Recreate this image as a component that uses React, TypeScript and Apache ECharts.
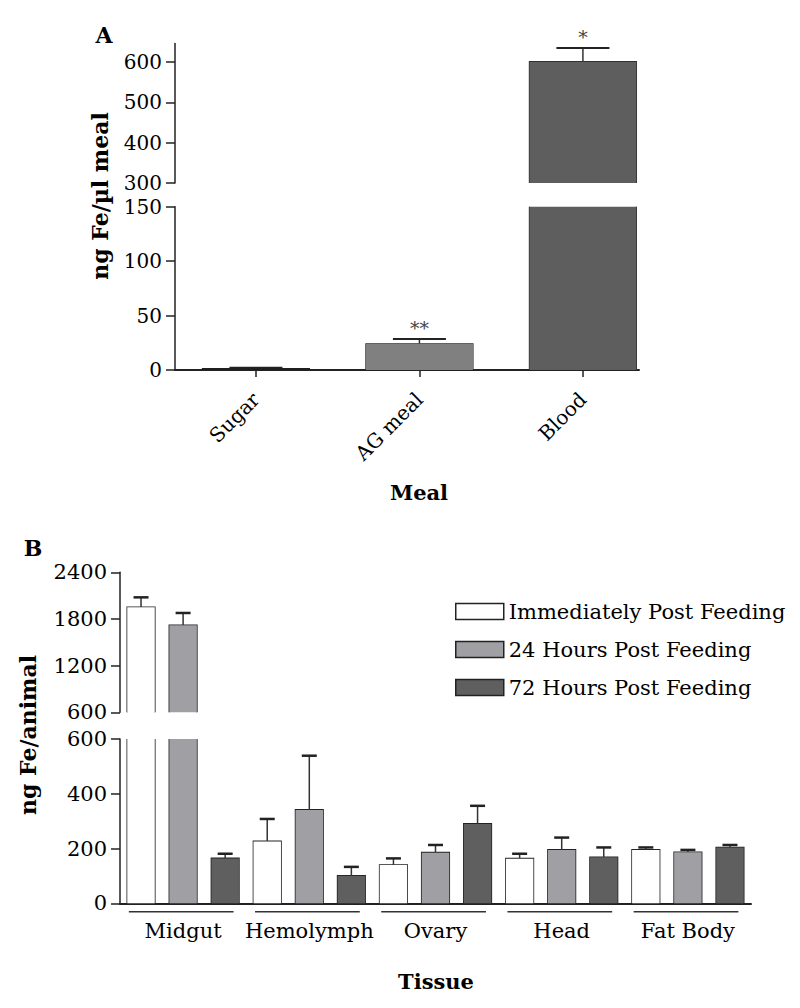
import React, { useEffect, useRef } from 'react';
import * as echarts from 'echarts';

// ---------- Panel A data ----------
const meals = ['Sugar', 'AG meal', 'Blood'];
const mealMeans = [1.2, 24, 601];
const mealErrors = [0.9, 4.5, 34];
const mealStars = ['', '**', '*'];
const aLowTicks = [0, 50, 100, 150];
const aHighTicks = [300, 400, 500, 600];

// ---------- Panel B data ----------
const tissues = ['Midgut', 'Hemolymph', 'Ovary', 'Head', 'Fat Body'];
const timepoints = ['Immediately Post Feeding', '24 Hours Post Feeding', '72 Hours Post Feeding'];
const immediateMeans = [1950, 226, 140, 163, 195];
const immediateErrors = [128, 82, 24, 18, 9];
const h24Means = [1718, 341, 185, 195, 186];
const h24Errors = [159, 198, 28, 45, 9];
const h72Means = [164, 100, 290, 168, 204];
const h72Errors = [17, 33, 66, 36, 9];
const bLowTicks = [0, 200, 400, 600];
const bHighTicks = [600, 1200, 1800, 2400];

// ---------- styles ----------
const FONT = 'DejaVu Serif';
const mealColors = ['#1e1e1e', '#808080', '#5e5e5e'];
const timeColors = ['#ffffff', '#a0a0a4', '#5f5f5f'];
const AXIS = { color: '#222', width: 1.5 };

const bMeans = [immediateMeans, h24Means, h72Means];
const bErrors = [immediateErrors, h24Errors, h72Errors];

// Draws a bar's outline (open where the bar crosses the axis break) and its error bar.
function barDecor(halfW: number, offsetFrac: number, capHalf: number, outlineW: number, capW: number, stars?: string[]) {
  return (params: any, api: any) => {
    const cs = params.coordSys;
    const gTop = cs.y;
    const gBottom = cs.y + cs.height;
    const i = api.value(0);
    const mean = api.value(1);
    const err = api.value(2);
    const band = api.size([1, 0])[0];
    const p = api.coord([i, mean]);
    const pe = api.coord([i, mean + err]);
    const p0 = api.coord([i, 0]);
    const x = p[0] + offsetFrac * band;
    if (p[1] > gBottom + 0.5) return null;
    const yBase = Math.min(p0[1], gBottom);
    const clipped = p[1] < gTop;
    const yTop = Math.max(p[1], gTop);
    const stroke = '#222';
    const children: any[] = [];
    if (clipped) {
      children.push({ type: 'line', shape: { x1: x - halfW, y1: yBase, x2: x - halfW, y2: yTop }, style: { stroke, lineWidth: outlineW } });
      children.push({ type: 'line', shape: { x1: x + halfW, y1: yBase, x2: x + halfW, y2: yTop }, style: { stroke, lineWidth: outlineW } });
    } else {
      children.push({
        type: 'polyline',
        shape: { points: [[x - halfW, yBase], [x - halfW, yTop], [x + halfW, yTop], [x + halfW, yBase]] },
        style: { stroke, lineWidth: outlineW, fill: null },
      });
      if (pe[1] >= gTop - 2) {
        children.push({ type: 'line', shape: { x1: x, y1: p[1], x2: x, y2: pe[1] }, style: { stroke: '#333', lineWidth: 1.5 } });
        children.push({ type: 'line', shape: { x1: x - capHalf, y1: pe[1], x2: x + capHalf, y2: pe[1] }, style: { stroke: '#222', lineWidth: capW } });
        const s = stars ? stars[Math.round(i)] : '';
        if (s) {
          children.push({
            type: 'text',
            x: x,
            y: pe[1] - 11,
            style: { text: s, textAlign: 'center', textVerticalAlign: 'middle', align: 'center', verticalAlign: 'middle', font: `19px "${FONT}"`, fill: '#444' },
          });
        }
      }
    }
    return { type: 'group', children };
  };
}

export default function App() {
  const ref = useRef<HTMLDivElement>(null);
  useEffect(() => {
    if (!ref.current) return;
    const chart = echarts.init(ref.current, undefined, { renderer: 'svg' });

    const labelA = { fontFamily: FONT, fontSize: 20, color: '#000' };
    const labelB = { fontFamily: FONT, fontSize: 21, color: '#000' };
    const plain = (v: number) => String(v);

    const aXMin = -0.495;
    const aXMax = 2.343;
    const xAxes: any[] = [
      {
        type: 'value', gridIndex: 0, min: aXMin, max: aXMax, splitLine: { show: false },
        axisLine: { show: true, onZero: false, lineStyle: { color: '#222', width: 2 } },
        axisTick: { show: true, customValues: [0, 1, 2], length: 7, lineStyle: AXIS },
        axisLabel: { ...labelA, customValues: [0, 1, 2], formatter: (v: number) => meals[Math.round(v)] ?? '', rotate: 45, margin: 26 },
      },
      { type: 'value', gridIndex: 1, min: aXMin, max: aXMax, show: false },
      {
        type: 'category', gridIndex: 2, data: tissues,
        axisLine: { show: true, onZero: false, lineStyle: { color: '#222', width: 2 } },
        axisTick: { show: false },
        axisLabel: { ...labelB, interval: 0, margin: 17 },
      },
      { type: 'category', gridIndex: 3, data: tissues, show: false },
    ];
    const yAxisBase = (gridIndex: number, min: number, max: number, ticks: number[], lab: any) => ({
      type: 'value', gridIndex, min, max, splitLine: { show: false },
      axisLine: { show: true, onZero: false, lineStyle: AXIS },
      axisTick: { show: true, customValues: ticks, length: 9, lineStyle: AXIS },
      axisLabel: { ...lab, customValues: ticks, margin: 13, formatter: plain },
    });
    const yAxes: any[] = [
      yAxisBase(0, 0, 150, aLowTicks, labelA),
      yAxisBase(1, 300, 646, aHighTicks, labelA),
      yAxisBase(2, 0, 600, bLowTicks, labelB),
      yAxisBase(3, 600, 2400, bHighTicks, labelB),
    ];

    const series: any[] = [];
    // Panel A bars (fills) and outlines / error bars
    const mealItems = meals.map((m, i) => ({ value: [i, mealMeans[i]], itemStyle: { color: mealColors[i] } }));
    const mealErrData = meals.map((m, i) => [i, mealMeans[i], mealErrors[i]]);
    [0, 1].forEach((g) => {
      series.push({
        type: 'bar', name: 'Meal', xAxisIndex: g, yAxisIndex: g, barWidth: 107, data: mealItems,
        itemStyle: { borderWidth: 0 }, silent: true,
      });
    });
    [0, 1].forEach((g) => {
      series.push({
        type: 'custom', xAxisIndex: g, yAxisIndex: g, clip: false, silent: true,
        data: mealErrData,
        renderItem: barDecor(53.5, 0, 26.5, 1.2, 2, mealStars),
      });
    });

    // Panel B bars
    timepoints.forEach((name, k) => {
      [2, 3].forEach((g) => {
        series.push({
          type: 'bar', name, barWidth: 27.5, barGap: '53%', silent: true,
          xAxisIndex: g, yAxisIndex: g, data: bMeans[k],
          itemStyle: { color: timeColors[k], borderWidth: 0 },
        });
      });
    });
    timepoints.forEach((name, k) => {
      const errData = tissues.map((t, i) => [i, bMeans[k][i], bErrors[k][i]]);
      [2, 3].forEach((g) => {
        series.push({
          type: 'custom', xAxisIndex: g, yAxisIndex: g, clip: false, silent: true,
          data: errData,
          renderItem: barDecor(13.75, (k - 1) / 3, 7.5, 1.6, 2.5),
        });
      });
    });
    // group underlines
    series.push({
      type: 'custom', xAxisIndex: 2, yAxisIndex: 2, clip: false, silent: true,
      data: tissues.map((t, i) => [i, 0]),
      renderItem: (params: any, api: any) => {
        const c = api.coord([api.value(0), 0]);
        const w = api.size([1, 0])[0];
        return {
          type: 'line',
          shape: { x1: c[0] - 0.43 * w, y1: c[1] + 8.5, x2: c[0] + 0.4 * w, y2: c[1] + 8.5 },
          style: { stroke: '#333', lineWidth: 1.5 },
        };
      },
    });

    const titleFont = `bold 22px "${FONT}"`;
    chart.setOption({
      animation: false,
      backgroundColor: '#ffffff',
      textStyle: { fontFamily: FONT },
      grid: [
        { left: 175, width: 464, top: 206.7, height: 163.3, containLabel: false },
        { left: 175, width: 464, top: 43.5, height: 139.5, containLabel: false },
        { left: 120, width: 631, top: 739, height: 164.3, containLabel: false },
        { left: 120, width: 631, top: 572.3, height: 140, containLabel: false },
      ],
      xAxis: xAxes,
      yAxis: yAxes,
      legend: {
        data: timepoints,
        orient: 'vertical',
        left: 450,
        top: 596,
        itemWidth: 48,
        itemHeight: 16,
        itemGap: 17,
        icon: 'rect',
        selectedMode: false,
        itemStyle: { borderColor: '#222', borderWidth: 1.5 },
        textStyle: { fontFamily: FONT, fontSize: 21, color: '#000' },
      },
      series,
      graphic: [
        { type: 'text', x: 104, y: 35, style: { text: 'A', font: `bold 22px "${FONT}"`, textAlign: 'center', textVerticalAlign: 'middle', fill: '#000' } },
        { type: 'text', x: 33, y: 548, style: { text: 'B', font: `bold 22px "${FONT}"`, textAlign: 'center', textVerticalAlign: 'middle', fill: '#000' } },
        { type: 'text', x: 419, y: 492, style: { text: 'Meal', font: `bold 21px "${FONT}"`, textAlign: 'center', textVerticalAlign: 'middle', fill: '#000' } },
        { type: 'text', x: 436, y: 981, style: { text: 'Tissue', font: `bold 21px "${FONT}"`, textAlign: 'center', textVerticalAlign: 'middle', fill: '#000' } },
        { type: 'text', x: 100, y: 196, rotation: Math.PI / 2, style: { text: 'ng Fe/µl meal', font: titleFont, textAlign: 'center', textVerticalAlign: 'middle', fill: '#000' } },
        { type: 'text', x: 28, y: 735, rotation: Math.PI / 2, style: { text: 'ng Fe/animal', font: titleFont, textAlign: 'center', textVerticalAlign: 'middle', fill: '#000' } },
      ],
    });
    return () => chart.dispose();
  }, []);
  return (
    <div
      ref={ref}
      style={{ position: 'absolute', left: 0, top: 0, width: 800, height: 1008, background: '#fff' }}
    />
  );
}
